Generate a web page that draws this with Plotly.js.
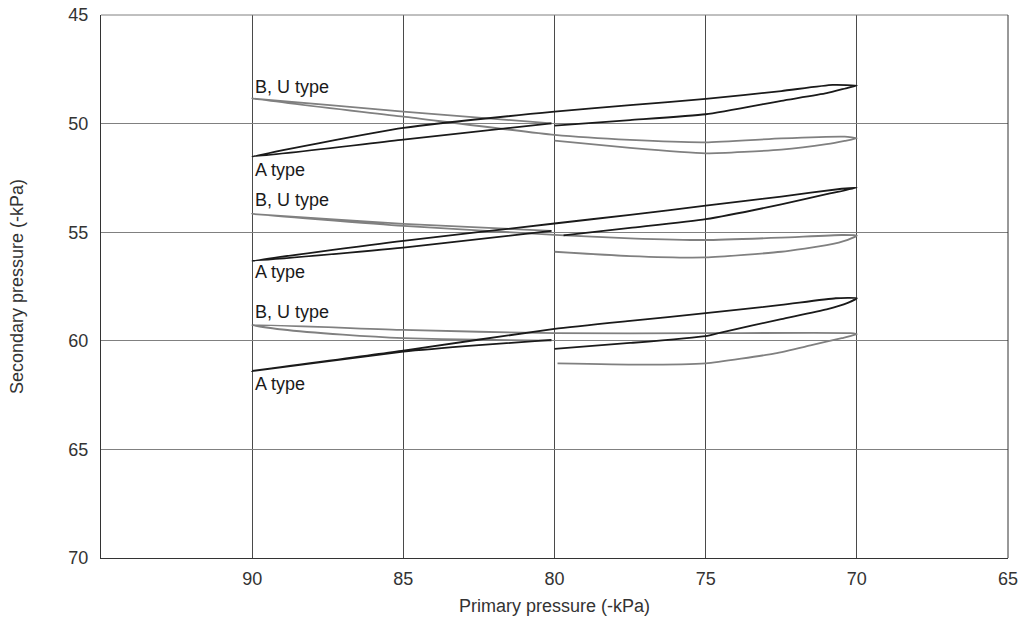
<!DOCTYPE html>
<html>
<head>
<meta charset="utf-8">
<script src="https://cdn.plot.ly/plotly-3.0.1.min.js"></script>
<style>html,body{margin:0;padding:0;background:#fff;}#chart{width:1022px;height:632px;}</style>
</head>
<body>
<div id="chart"></div>
<script>
// Level 1 (around 50 kPa)
const a1X = [80, 77.5, 75, 72.5, 71, 70.3, 70, 70.8, 72.5, 75, 77.5, 80, 85, 90, 85, 80.1];
const a1Y = [50.09, 49.84, 49.57, 48.95, 48.6, 48.35, 48.25, 48.22, 48.5, 48.86, 49.15, 49.45, 50.2, 51.52, 50.74, 49.99];
const b1X = [80, 77.5, 75, 72.5, 71, 70.4, 70, 70.4, 72.5, 75, 77.5, 80, 85, 90, 85, 80.1];
const b1Y = [50.78, 51.12, 51.37, 51.2, 50.95, 50.8, 50.68, 50.6, 50.68, 50.86, 50.75, 50.52, 49.68, 48.85, 49.45, 49.99];
// Level 2 (around 55 kPa)
const a2X = [79.7, 77.5, 75, 72.5, 71, 70, 70.5, 72.5, 75, 77.5, 80, 85, 90, 85, 80.1];
const a2Y = [55.15, 54.8, 54.4, 53.72, 53.25, 52.95, 53.0, 53.36, 53.78, 54.2, 54.6, 55.4, 56.32, 55.71, 54.94];
const b2X = [80, 77.5, 75, 72.5, 71, 70.3, 70, 70.5, 72.5, 75, 77.5, 80, 85, 90, 85, 80.1];
const b2Y = [55.9, 56.1, 56.16, 55.9, 55.6, 55.35, 55.15, 55.13, 55.25, 55.36, 55.28, 55.12, 54.71, 54.16, 54.62, 54.94];
// Level 3 (around 60 kPa)
const a3X = [80, 77.5, 75, 74.5, 72.5, 71, 70.3, 70, 70.7, 72.5, 75, 77.5, 80, 85, 90, 85, 82.5, 80.1];
const a3Y = [60.37, 60.1, 59.78, 59.62, 59.0, 58.55, 58.25, 58.04, 58.04, 58.35, 58.73, 59.08, 59.45, 60.45, 61.39, 60.5, 60.2, 59.96];
const b3X = [79.9, 77.2, 75, 72.7, 71.5, 70.5, 70, 70.2, 75, 80, 85, 90, 89, 87, 85, 82.5, 80.1];
const b3Y = [61.04, 61.1, 61.04, 60.58, 60.2, 59.88, 59.7, 59.65, 59.65, 59.65, 59.5, 59.27, 59.48, 59.72, 59.88, 59.95, 59.99];

const xTicks = [90, 85, 80, 75, 70, 65];
const yTicks = [45, 50, 55, 60, 65, 70];
const labelBU = "B, U type";
const labelA = "A type";
const labelBUy = [48.3, 53.5, 58.66];
const labelAy = [52.12, 56.81, 61.97];

const FONT = "Liberation Sans, Arial, sans-serif";
const FS = 18;
const black = {color: "#1a1a1a", width: 1.8, shape: "spline", smoothing: 0.5};
const gray = {color: "#808080", width: 1.8, shape: "spline", smoothing: 0.5};

const traces = [
  {x: b1X, y: b1Y, line: gray}, {x: a1X, y: a1Y, line: black},
  {x: b2X, y: b2Y, line: gray}, {x: a2X, y: a2Y, line: black},
  {x: b3X, y: b3Y, line: gray}, {x: a3X, y: a3Y, line: black}
].map(t => Object.assign({type: "scatter", mode: "lines", hoverinfo: "skip"}, t));

const annotations = [];
labelBUy.forEach(v => annotations.push({x: 90, y: v, text: labelBU, showarrow: false, xanchor: "left", yanchor: "middle", xshift: 1, font: {family: FONT, size: FS, color: "#1a1a1a"}}));
labelAy.forEach(v => annotations.push({x: 90, y: v, text: labelA, showarrow: false, xanchor: "left", yanchor: "middle", xshift: 1, font: {family: FONT, size: FS, color: "#1a1a1a"}}));

const layout = {
  width: 1022, height: 632,
  margin: {l: 101, r: 14, t: 15, b: 74},
  paper_bgcolor: "#fff", plot_bgcolor: "#fff",
  showlegend: false,
  font: {family: FONT, size: FS, color: "#333"},
  xaxis: {
    range: [95, 65], tickvals: xTicks, ticktext: xTicks.map(String),
    showgrid: true, gridcolor: "#4a4a4a", gridwidth: 1,
    showline: true, linecolor: "#333", linewidth: 1, mirror: false,
    zeroline: false, ticks: "", ticklabelstandoff: 4,
    tickfont: {family: FONT, size: FS, color: "#333"},
    title: {text: "Primary pressure (-kPa)", standoff: 11, font: {family: FONT, size: FS, color: "#333"}}
  },
  yaxis: {
    range: [70, 45], tickvals: yTicks, ticktext: yTicks.map(String),
    showgrid: true, gridcolor: "#808080", gridwidth: 1,
    showline: true, linecolor: "#333", linewidth: 1, mirror: false,
    zeroline: false, ticks: "", ticklabelstandoff: 8,
    tickfont: {family: FONT, size: FS, color: "#333"},
    title: {text: "Secondary pressure (-kPa)", standoff: 40, font: {family: FONT, size: FS, color: "#333"}}
  },
  shapes: [
    {type: "line", xref: "paper", yref: "paper", x0: 0, x1: 1, y0: 1, y1: 1, line: {color: "#808080", width: 1}},
    {type: "line", xref: "paper", yref: "paper", x0: 1, x1: 1, y0: 0, y1: 1, line: {color: "#333", width: 1}}
  ],
  annotations: annotations
};

Plotly.newPlot("chart", traces, layout, {displayModeBar: false, staticPlot: true});
</script>
</body>
</html>
